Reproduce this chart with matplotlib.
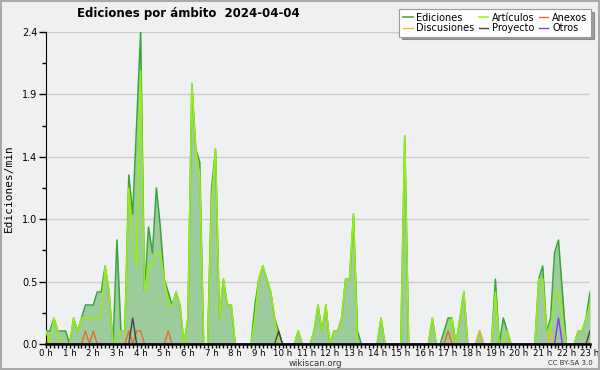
import numpy as np
import matplotlib
matplotlib.use("Agg")
import matplotlib.pyplot as plt
from matplotlib.ticker import FixedLocator, MultipleLocator

# Edits per minute, sampled every 10 minutes from 00:00 to 23:00 (one row = one hour)
ediciones = [
    0.1, 0.1, 0.2, 0.1, 0.1, 0.1,
    0.0, 0.2, 0.1, 0.2, 0.3, 0.3,
    0.3, 0.4, 0.4, 0.6, 0.4, 0.0,
    0.8, 0.1, 0.1, 1.3, 1.0, 1.7,
    2.4, 0.4, 0.9, 0.7, 1.2, 0.9,
    0.5, 0.4, 0.3, 0.4, 0.3, 0.0,
    0.2, 2.0, 1.5, 1.4, 0.0, 0.0,
    1.2, 1.5, 0.2, 0.5, 0.3, 0.3,
    0.0, 0.0, 0.0, 0.0, 0.0, 0.3,
    0.5, 0.6, 0.5, 0.4, 0.2, 0.1,
    0.0, 0.0, 0.0, 0.0, 0.1, 0.0,
    0.0, 0.0, 0.1, 0.3, 0.1, 0.3,
    0.0, 0.1, 0.1, 0.2, 0.5, 0.5,
    1.0, 0.1, 0.0, 0.0, 0.0, 0.0,
    0.0, 0.2, 0.0, 0.0, 0.0, 0.0,
    0.0, 1.6, 0.0, 0.0, 0.0, 0.0,
    0.0, 0.0, 0.2, 0.0, 0.0, 0.1,
    0.2, 0.2, 0.0, 0.2, 0.4, 0.0,
    0.0, 0.0, 0.1, 0.0, 0.0, 0.0,
    0.5, 0.0, 0.2, 0.1, 0.0, 0.0,
    0.0, 0.0, 0.0, 0.0, 0.0, 0.5,
    0.6, 0.1, 0.2, 0.7, 0.8, 0.4,
    0.0, 0.0, 0.0, 0.1, 0.1, 0.2,
    0.4,
]

articulos = [
    0.1, 0.0, 0.2, 0.1, 0.0, 0.0,
    0.0, 0.2, 0.1, 0.2, 0.2, 0.2,
    0.2, 0.2, 0.2, 0.6, 0.4, 0.0,
    0.0, 0.1, 0.1, 1.2, 0.8, 0.6,
    2.1, 0.4, 0.6, 0.6, 0.7, 0.7,
    0.5, 0.3, 0.3, 0.4, 0.3, 0.0,
    0.2, 2.0, 1.5, 1.3, 0.0, 0.0,
    1.1, 1.5, 0.2, 0.5, 0.3, 0.3,
    0.0, 0.0, 0.0, 0.0, 0.0, 0.2,
    0.5, 0.6, 0.5, 0.4, 0.2, 0.0,
    0.0, 0.0, 0.0, 0.0, 0.1, 0.0,
    0.0, 0.0, 0.1, 0.3, 0.1, 0.3,
    0.0, 0.1, 0.1, 0.2, 0.5, 0.5,
    1.0, 0.0, 0.0, 0.0, 0.0, 0.0,
    0.0, 0.2, 0.0, 0.0, 0.0, 0.0,
    0.0, 1.6, 0.0, 0.0, 0.0, 0.0,
    0.0, 0.0, 0.2, 0.0, 0.0, 0.0,
    0.1, 0.2, 0.0, 0.2, 0.4, 0.0,
    0.0, 0.0, 0.0, 0.0, 0.0, 0.0,
    0.4, 0.0, 0.0, 0.1, 0.0, 0.0,
    0.0, 0.0, 0.0, 0.0, 0.0, 0.5,
    0.5, 0.1, 0.1, 0.4, 0.4, 0.2,
    0.0, 0.0, 0.0, 0.1, 0.1, 0.2,
    0.3,
]

# small series: (sample index, value) where non-zero
anexos_idx = [10, 12, 21, 23, 24, 31, 102]
anexos_val = [0.1, 0.1, 0.1, 0.1, 0.1, 0.1, 0.1]
discusiones_idx = [110, 128]
discusiones_val = [0.1, 0.1]
proyecto_idx = [22, 59, 138]
proyecto_val = [0.2, 0.1, 0.1]
otros_idx = [130]
otros_val = [0.2]

y_ticks = [0.0, 0.48, 0.96, 1.44, 1.92, 2.4]
y_labels = ["0.0", "0.5", "1.0", "1.4", "1.9", "2.4"]
x_labels = [f"{h} h" for h in range(24)]


def sparse(idx, val, n):
    s = np.zeros(n)
    s[idx] = val
    return s


n = len(ediciones)
hours = np.arange(n) / 6.0

fig = plt.figure(figsize=(6, 3.7), dpi=100, facecolor="#f0f0f0")
ax = fig.add_axes([46 / 600, 26 / 370, 544 / 600, 312 / 370])
ax.set_facecolor("#eef0f2")

ax.fill_between(hours, ediciones, 0, color="#9ccb9c", lw=0, zorder=2)
ax.plot(hours, ediciones, color="#3aa53a", lw=1.1, zorder=3, label="Ediciones")
ax.plot(hours, articulos, color="#99ee11", lw=1.1, zorder=4, label="Artículos")
ax.plot(hours, sparse(anexos_idx, anexos_val, n), color="#ee6622", lw=1.0, zorder=5, label="Anexos")
ax.plot(hours, sparse(discusiones_idx, discusiones_val, n), color="#e8c020", lw=1.0, zorder=5, label="Discusiones")
ax.plot(hours, sparse(proyecto_idx, proyecto_val, n), color="#444444", lw=1.0, zorder=5, label="Proyecto")
ax.plot(hours, sparse(otros_idx, otros_val, n), color="#8833ee", lw=1.0, zorder=5, label="Otros")

ax.set_xlim(0, 23)
ax.set_ylim(0, 2.4)

ax.set_yticks(y_ticks)
ax.set_yticklabels(y_labels, fontsize=7)
ax.yaxis.set_minor_locator(FixedLocator([0.24, 0.72, 1.2, 1.68, 2.16]))
ax.set_xticks(range(24))
ax.set_xticklabels(x_labels, fontsize=6.2)
ax.xaxis.set_minor_locator(MultipleLocator(1 / 6))
ax.tick_params(axis="x", which="major", length=3, width=1, pad=0.3)
ax.tick_params(axis="x", which="minor", length=3, width=1)
ax.tick_params(axis="y", which="major", length=5, width=1, pad=1)
ax.tick_params(axis="y", which="minor", length=3, width=1)

ax.grid(axis="y", color="#cccccc", lw=1, zorder=1)
ax.spines["top"].set_visible(False)
ax.spines["right"].set_visible(False)
ax.spines["bottom"].set_linewidth(1.8)
ax.spines["bottom"].set_zorder(6)

ax.set_ylabel("Ediciones/min", fontsize=8, family="DejaVu Sans Mono", labelpad=6)

fig.text(188 / 600, 0.963, "Ediciones por ámbito  2024-04-04", fontsize=8.5,
         fontweight="bold", ha="center", va="center")
fig.text(315 / 600, 7 / 370, "wikiscan.org", fontsize=6.2, ha="center", va="center", color="#333333")
fig.text(570 / 600, 7 / 370, "CC BY-SA 3.0", fontsize=5, ha="center", va="center", color="#333333")

handles, labels = ax.get_legend_handles_labels()
order = [0, 3, 1, 4, 2, 5]
leg = fig.legend([handles[i] for i in order], [labels[i] for i in order],
                 loc="upper right", bbox_to_anchor=(0.985, 0.975), ncol=3,
                 fontsize=7, frameon=True, fancybox=False, shadow=True,
                 handlelength=1.0, handletextpad=0.4, columnspacing=0.4,
                 labelspacing=0.05, borderpad=0.35, borderaxespad=0)
leg.get_frame().set_edgecolor("#999999")
leg.get_frame().set_linewidth(0.8)

# outer frame
fig.patches.append(plt.Rectangle((0.002, 0.003), 0.996, 0.994, transform=fig.transFigure,
                                 fill=False, edgecolor="#aaaaaa", lw=1.5))

fig.savefig("out.png", dpi=100, facecolor=fig.get_facecolor())
